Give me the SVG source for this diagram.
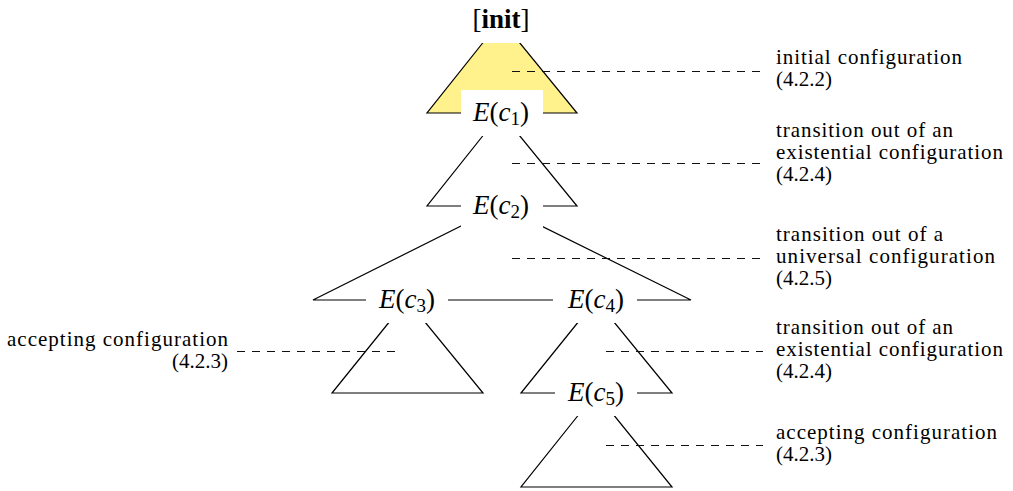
<svg xmlns="http://www.w3.org/2000/svg" width="1013" height="491" viewBox="0 0 1013 491">
<style>
.tri{fill:none;stroke:#000;stroke-width:1.2}
.box{fill:#fff}
.m{font-family:"Liberation Serif",serif;font-size:27px;fill:#000}
.it{font-style:italic}
.sub{font-size:19px}
.lbl{font-family:"Liberation Serif",serif;font-size:21px;fill:#000}
.dash{stroke:#111;stroke-width:1;stroke-dasharray:8 7;fill:none}
</style>
<rect width="1013" height="491" fill="#fff"/>
<g id="connectors">
<polygon class="tri" points="501,20 427,113 577,113" style="fill:#fff18c"/>
<polygon class="tri" points="501,113 427,206 577,206"/>
<polygon class="tri" points="501,206 313,300 691,300"/>
<polygon class="tri" points="407,300 332,393 483,393"/>
<polygon class="tri" points="596,300 521,393 672,393"/>
<polygon class="tri" points="596,393 521,487 672,487"/>
<line class="dash" x1="512" y1="71.5" x2="763" y2="71.5"/>
<line class="dash" x1="512" y1="163.5" x2="763" y2="163.5"/>
<line class="dash" x1="512" y1="258.5" x2="763" y2="258.5"/>
<line class="dash" x1="606" y1="351.5" x2="763" y2="351.5"/>
<line class="dash" x1="606" y1="445.5" x2="763" y2="445.5"/>
<line class="dash" x1="237" y1="351.5" x2="399" y2="351.5"/>
</g>
<g id="init">
<rect class="box" x="468" y="-3" width="66" height="46"/>
<text class="m" x="501" y="28" text-anchor="middle" style="font-size:27px">[<tspan font-weight="bold">init</tspan>]</text>
</g>
<g id="c1">
<rect class="box" x="461" y="90" width="82" height="46"/>
<text class="m" x="501" y="121" text-anchor="middle"><tspan class="it">E</tspan>(<tspan class="it">c</tspan><tspan class="sub" dy="4">1</tspan><tspan dy="-4">)</tspan></text>
</g>
<g id="c2">
<rect class="box" x="461" y="183" width="82" height="46"/>
<text class="m" x="501" y="214" text-anchor="middle"><tspan class="it">E</tspan>(<tspan class="it">c</tspan><tspan class="sub" dy="4">2</tspan><tspan dy="-4">)</tspan></text>
</g>
<g id="c3">
<rect class="box" x="366" y="277" width="82" height="46"/>
<text class="m" x="407" y="308" text-anchor="middle"><tspan class="it">E</tspan>(<tspan class="it">c</tspan><tspan class="sub" dy="4">3</tspan><tspan dy="-4">)</tspan></text>
</g>
<g id="c4">
<rect class="box" x="553" y="277" width="84" height="46"/>
<text class="m" x="596" y="308" text-anchor="middle"><tspan class="it">E</tspan>(<tspan class="it">c</tspan><tspan class="sub" dy="4">4</tspan><tspan dy="-4">)</tspan></text>
</g>
<g id="c5">
<rect class="box" x="555" y="370" width="82" height="46"/>
<text class="m" x="596" y="401" text-anchor="middle"><tspan class="it">E</tspan>(<tspan class="it">c</tspan><tspan class="sub" dy="4">5</tspan><tspan dy="-4">)</tspan></text>
</g>
<g id="label-initial">
<text class="lbl" x="776" y="64" textLength="186" lengthAdjust="spacing">initial configuration</text>
<text class="lbl" x="776" y="86">(4.2.2)</text>
</g>
<g id="label-exist1">
<text class="lbl" x="776" y="137" textLength="177" lengthAdjust="spacing">transition out of an</text>
<text class="lbl" x="776" y="159" textLength="227" lengthAdjust="spacing">existential configuration</text>
<text class="lbl" x="776" y="181">(4.2.4)</text>
</g>
<g id="label-univ">
<text class="lbl" x="776" y="241" textLength="167" lengthAdjust="spacing">transition out of a</text>
<text class="lbl" x="776" y="263" textLength="219" lengthAdjust="spacing">universal configuration</text>
<text class="lbl" x="776" y="285">(4.2.5)</text>
</g>
<g id="label-exist2">
<text class="lbl" x="776" y="334" textLength="177" lengthAdjust="spacing">transition out of an</text>
<text class="lbl" x="776" y="356" textLength="227" lengthAdjust="spacing">existential configuration</text>
<text class="lbl" x="776" y="378">(4.2.4)</text>
</g>
<g id="label-accept2">
<text class="lbl" x="776" y="439" textLength="221" lengthAdjust="spacing">accepting configuration</text>
<text class="lbl" x="776" y="461">(4.2.3)</text>
</g>
<g id="label-accept1">
<text class="lbl" x="228" y="346" text-anchor="end" textLength="221" lengthAdjust="spacing">accepting configuration</text>
<text class="lbl" x="228" y="368" text-anchor="end">(4.2.3)</text>
</g>
</svg>
